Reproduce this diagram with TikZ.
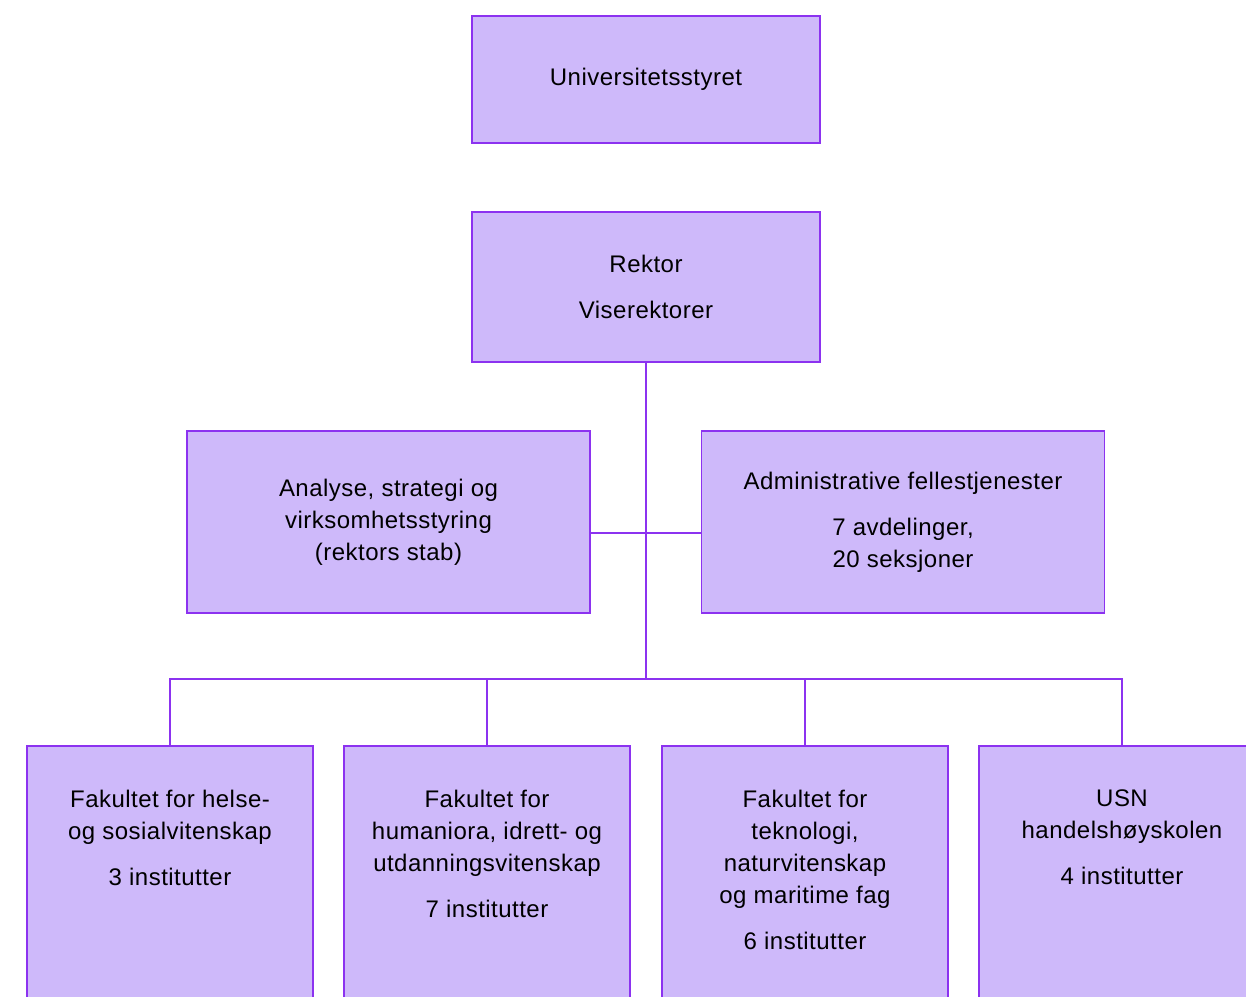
\documentclass[tikz,border=0pt]{standalone}
\usepackage{fontspec}
\setmainfont[LetterSpace=2]{Liberation Sans}
\definecolor{usnfill}{RGB}{206,185,250}
\definecolor{usnline}{RGB}{140,50,240}
\tikzset{
  unit/.style={draw=usnline,fill=usnfill,line width=1.5pt,inner sep=0pt,align=center},
  fak/.style={unit,minimum width=286pt,minimum height=300pt,anchor=north},
  unittext/.style={anchor=north,align=center,inner sep=0pt},
  link/.style={draw=usnline,line width=1.5pt}
}
\begin{document}
\begin{tikzpicture}[x=1pt,y=-1pt,font=\fontsize{24}{32}\selectfont]
    \clip (0,0) rectangle (1246,996);

    \node[unit,minimum width=348pt,minimum height=127pt] (styret) at (646,79.5) {Universitetsstyret};
    \node[unit,minimum width=348pt,minimum height=150pt] (rektor) at (646,287) {Rektor\\[14pt]Viserektorer};
    \node[unit,minimum width=403pt,minimum height=182pt] (stab) at (388.5,522) {Analyse, strategi og\\virksomhetsstyring\\(rektors stab)};
    \node[unit,minimum width=403pt,minimum height=182pt] (admin) at (903,522) {Administrative fellestjenester\\[14pt]7 avdelinger,\\20 seksjoner};

    \node[fak] (f1) at (170,745) {};
    \node[fak] (f2) at (487,745) {};
    \node[fak] (f3) at (805,745) {};
    \node[fak] (f4) at (1122,745) {};

    \node[unittext] (t1) at ([yshift=-45pt]f1.north) {Fakultet for helse-\\og sosialvitenskap\\[14pt]3 institutter};
    \node[unittext] (t2) at ([yshift=-45pt]f2.north) {Fakultet for\\humaniora, idrett- og\\utdanningsvitenskap\\[14pt]7 institutter};
    \node[unittext] (t3) at ([yshift=-45pt]f3.north) {Fakultet for\\teknologi,\\naturvitenskap\\og maritime fag\\[14pt]6 institutter};
    \node[unittext] (t4) at ([yshift=-45pt]f4.north) {USN\\handelshøyskolen\\[14pt]4 institutter};

    \coordinate (bus) at (646,679);
    \draw[link] (rektor.south) -- (bus);
    \draw[link] ([yshift=-11pt]stab.east) -- ([yshift=-11pt]admin.west);
    \draw[link] (f1.north) |- (bus) -| (f4.north);
    \draw[link] (f2.north) -- (f2.north |- bus);
    \draw[link] (f3.north) -- (f3.north |- bus);
\end{tikzpicture}
\end{document}
